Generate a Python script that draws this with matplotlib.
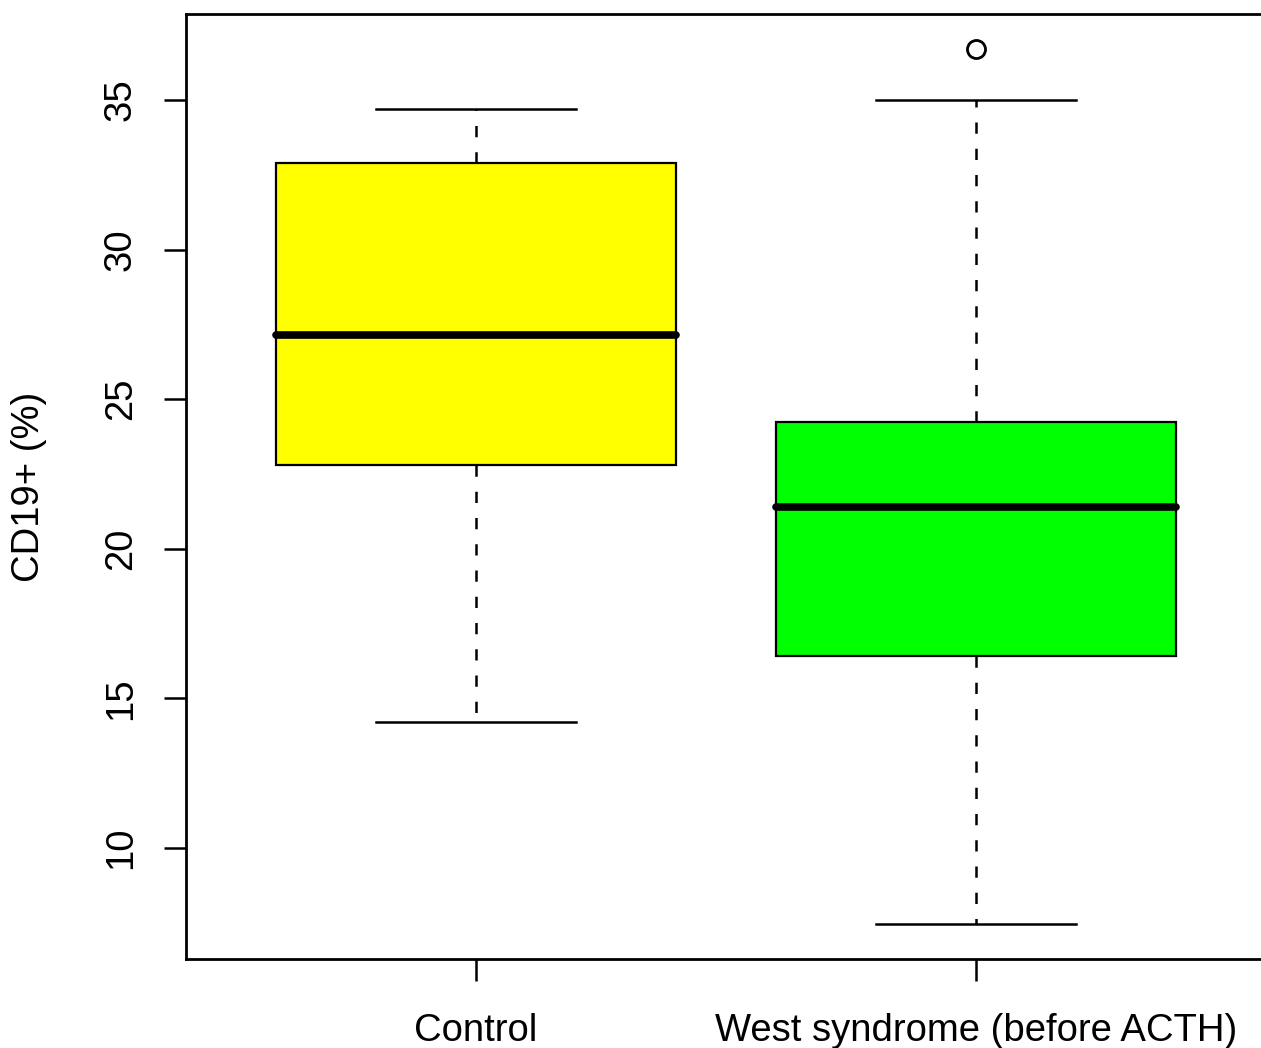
import matplotlib
matplotlib.use('Agg')
import matplotlib.pyplot as plt

plt.rcParams['font.family'] = ['Liberation Sans', 'DejaVu Sans']

# values
groups = ['Control', 'West syndrome (before ACTH)']
whislo = [14.21, 7.46]
q1 = [22.80, 16.42]
med = [27.15, 21.40]
q3 = [32.89, 24.24]
whishi = [34.70, 35.00]
fliers = [[], [36.70]]
colors = ['#ffff00', '#00ff00']

stats = []
for i in range(len(groups)):
	stats.append(dict(label=groups[i], whislo=whislo[i], q1=q1[i], med=med[i],
		q3=q3[i], whishi=whishi[i], fliers=fliers[i]))

W, H = 1261, 1048
fig = plt.figure(figsize=(W / 100, H / 100), dpi=100)
ax = fig.add_axes([186 / W, 89 / H, (1266 - 186) / W, (959 - 14) / H])

bp = ax.bxp(stats, positions=[1, 2], widths=0.8, patch_artist=True,
	boxprops=dict(linewidth=1.6, edgecolor='black'),
	medianprops=dict(linewidth=5.5, color='black', solid_capstyle='round'),
	whiskerprops=dict(linewidth=1.8, color='black', dashes=(4.5, 6)),
	capprops=dict(linewidth=1.8, color='black'),
	capwidths=0.4,
	flierprops=dict(marker='o', markersize=13, markerfacecolor='none',
		markeredgecolor='black', markeredgewidth=2))
for patch, c in zip(bp['boxes'], colors):
	patch.set_facecolor(c)

ax.set_xlim(0.42, 2.58)
ax.set_ylim(6.29, 37.87)
ax.set_yticks([10, 15, 20, 25, 30, 35])
ax.set_yticklabels(['10', '15', '20', '25', '30', '35'], rotation=90, va='center')
ax.set_xticks([1, 2])
ax.set_xticklabels(groups)
ax.tick_params(axis='both', labelsize=27.5, length=16, width=1.8, color='black')
ax.tick_params(axis='x', pad=23)
ax.tick_params(axis='y', pad=18)
ax.set_ylabel('CD19+ (%)', fontsize=27.5, labelpad=40)

for s in ax.spines.values():
	s.set_linewidth(2)

fig.savefig('out.png', dpi=100)
